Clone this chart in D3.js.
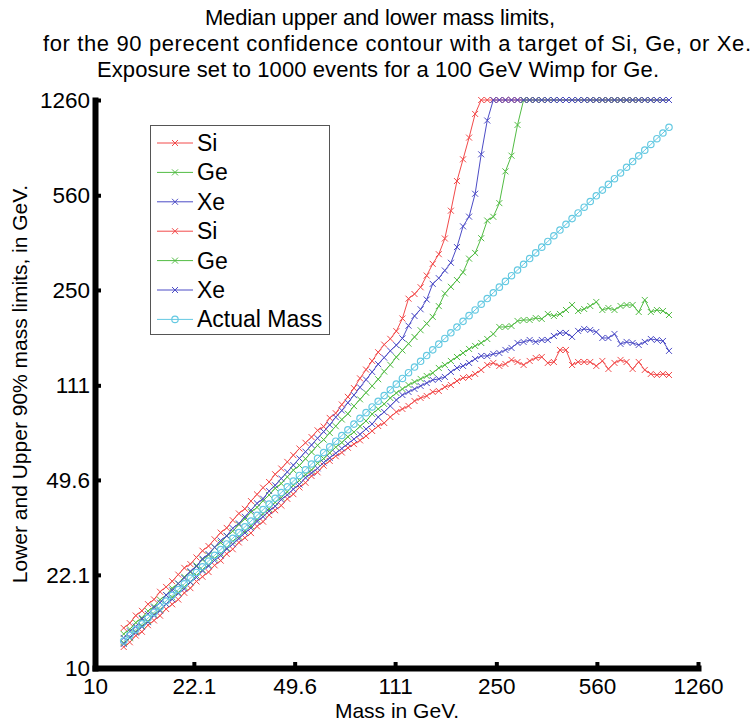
<!DOCTYPE html>
<html>
<head>
<meta charset="utf-8">
<script src="https://cdn.jsdelivr.net/npm/d3@7"></script>
<style>
  body { margin: 0; background: #ffffff; }
  svg text { font-family: "Liberation Sans", Arial, Helvetica, sans-serif; fill: #000; }
</style>
</head>
<body>
<svg id="chart" width="755" height="724"></svg>
<script>
// WIMP mass (GeV), log-spaced
const mass = [12.59, 13.22, 13.87, 14.57, 15.29, 16.05, 16.85, 17.69, 18.57, 19.50,
  20.47, 21.49, 22.56, 23.68, 24.86, 26.10, 27.40, 28.76, 30.19, 31.70,
  33.27, 34.93, 36.67, 38.50, 40.41, 42.42, 44.54, 46.75, 49.08, 51.53,
  54.09, 56.79, 59.61, 62.58, 65.70, 68.97, 72.40, 76.01, 79.79, 83.77,
  87.94, 92.32, 96.91, 101.7, 106.8, 112.1, 117.7, 123.6, 129.7, 136.2,
  143.0, 150.1, 157.6, 165.4, 173.6, 182.3, 191.4, 200.9, 210.9, 221.4,
  232.4, 244.0, 256.1, 268.9, 282.3, 296.3, 311.1, 326.6, 342.8, 359.9,
  377.8, 396.6, 416.4, 437.1, 458.9, 481.7, 505.7, 530.9, 557.3, 585.1,
  614.2, 644.8, 676.9, 710.6, 746.0, 783.2, 822.2, 863.1, 906.1, 951.2,
  998.6];

// Upper 90% limits (capped at 1260 GeV)
const siUpper = [14.06, 14.65, 15.63, 16.27, 17.23, 17.93, 19.14, 19.94, 20.93, 22.15,
  23.46, 24.22, 25.63, 27.14, 28.24, 29.91, 31.67, 32.96, 35.20, 37.28,
  38.79, 41.43, 43.86, 46.43, 48.73, 52.05, 54.65, 57.83, 61.25, 64.82,
  68.04, 71.44, 75.65, 78.10, 84.10, 87.52, 94.26, 100.6, 108.4, 117.8,
  126.9, 136.6, 147.1, 157.0, 164.9, 176.0, 196.1, 232.1, 241.5, 255.8,
  282.6, 312.2, 339.0, 387.5, 490.9, 632.0, 760.4, 914.7, 1119, 1260,
  1260, 1260, 1260, 1260, 1260, 1260, 1260, 1260, 1260, 1260,
  1260, 1260, 1260, 1260, 1260, 1260, 1260, 1260, 1260, 1260,
  1260, 1260, 1260, 1260, 1260, 1260, 1260, 1260, 1260, 1260,
  1260];

const geUpper = [13.36, 13.91, 14.72, 15.33, 16.23, 16.89, 17.88, 18.62, 19.71, 20.52,
  21.73, 22.62, 23.95, 25.13, 26.16, 27.94, 29.08, 30.79, 32.04, 33.93,
  35.62, 37.71, 39.26, 41.56, 43.63, 46.19, 48.09, 50.91, 53.89, 56.11,
  59.40, 62.89, 66.59, 69.91, 74.02, 78.37, 82.97, 87.11, 93.01, 98.49,
  104.3, 110.4, 116.9, 124.8, 132.2, 141.1, 149.4, 158.2, 167.5, 177.4,
  187.8, 198.8, 217.9, 242.6, 256.8, 272.0, 290.5, 326.4, 342.6, 388.4,
  451.5, 466.0, 523.6, 686.2, 784.3, 1019, 1260, 1260, 1260, 1260,
  1260, 1260, 1260, 1260, 1260, 1260, 1260, 1260, 1260, 1260,
  1260, 1260, 1260, 1260, 1260, 1260, 1260, 1260, 1260, 1260,
  1260];

const xeUpper = [12.92, 13.68, 14.23, 15.20, 15.83, 16.74, 17.44, 18.61, 19.37, 20.51,
  21.53, 22.80, 23.73, 25.36, 26.38, 27.95, 29.59, 30.80, 32.88, 34.24,
  36.23, 38.35, 40.63, 42.27, 45.14, 47.38, 50.20, 53.11, 56.25, 59.57,
  63.07, 66.79, 70.70, 74.84, 79.23, 84.63, 89.56, 95.70, 102.1, 109.1,
  116.5, 124.4, 132.9, 140.5, 148.9, 156.3, 165.5, 184.4, 200.3, 212.1,
  230.4, 263.3, 276.4, 295.1, 315.1, 360.2, 429.7, 466.7, 567.1, 793.3,
  1058, 1260, 1260, 1260, 1260, 1260, 1260, 1260, 1260, 1260,
  1260, 1260, 1260, 1260, 1260, 1260, 1260, 1260, 1260, 1260,
  1260, 1260, 1260, 1260, 1260, 1260, 1260, 1260, 1260, 1260,
  1260];

// Lower 90% limits
const siLower = [11.96, 12.45, 13.18, 13.61, 14.40, 14.99, 15.61, 16.53, 17.20, 17.91,
  18.96, 19.74, 20.90, 21.75, 22.64, 23.97, 24.95, 26.42, 27.49, 29.12,
  30.30, 31.54, 33.40, 34.77, 36.80, 38.31, 39.87, 42.22, 43.94, 46.53,
  48.42, 51.28, 52.91, 56.02, 58.32, 60.69, 62.64, 65.20, 67.29, 69.45,
  72.10, 75.24, 78.51, 80.54, 84.77, 88.47, 90.76, 93.10, 97.14, 99.65,
  101.4, 104.9, 105.8, 109.4, 111.3, 115.2, 118.2, 119.2, 122.3, 126.5,
  132.0, 134.3, 130.9, 133.1, 137.8, 135.4, 132.0, 136.6, 140.1, 141.3,
  134.3, 135.4, 150.0, 150.0, 132.0, 135.4, 135.4, 135.4, 130.9, 136.6,
  127.6, 134.3, 137.8, 135.4, 127.6, 135.4, 126.5, 122.3, 121.2, 122.3,
  121.2];

const geLower = [12.38, 12.89, 13.63, 14.32, 14.90, 15.78, 16.43, 17.24, 18.25, 19.01,
  19.95, 20.77, 21.99, 23.08, 24.03, 25.44, 26.48, 27.80, 29.43, 30.64,
  32.16, 33.47, 35.44, 37.21, 38.72, 41.00, 42.68, 44.80, 47.44, 49.38,
  51.83, 53.96, 57.12, 59.46, 62.43, 65.54, 68.21, 71.61, 74.54, 78.26,
  81.94, 86.97, 90.76, 94.70, 99.65, 104.0, 107.6, 111.3, 114.2, 117.2,
  120.2, 123.3, 128.7, 132.0, 136.6, 141.3, 146.2, 151.3, 155.2, 159.2,
  164.7, 171.9, 182.4, 182.4, 184.0, 192.0, 193.6, 193.6, 196.9, 195.3,
  203.8, 200.3, 203.8, 210.8, 220.0, 209.0, 212.6, 218.1, 225.7, 210.8,
  214.4, 210.8, 218.1, 220.0, 220.0, 207.2, 229.6, 207.2, 210.8, 209.0,
  202.0];

const xeLower = [12.27, 13.00, 13.52, 14.20, 14.78, 15.65, 16.29, 17.24, 17.95, 18.85,
  19.62, 20.77, 21.62, 22.89, 23.82, 25.01, 26.04, 27.56, 28.69, 30.12,
  31.61, 32.91, 34.84, 36.27, 38.07, 39.63, 41.96, 43.67, 45.85, 47.73,
  50.53, 52.60, 54.75, 57.48, 59.83, 62.28, 64.81, 67.47, 70.22, 73.10,
  76.53, 79.86, 84.77, 88.47, 93.10, 97.97, 102.2, 104.9, 107.6, 110.4,
  113.2, 116.2, 117.2, 119.2, 124.4, 128.7, 130.9, 134.3, 138.9, 142.5,
  142.5, 145.0, 146.2, 150.0, 152.6, 159.2, 160.6, 163.3, 160.6, 163.3,
  163.3, 169.0, 173.4, 173.4, 167.6, 176.4, 179.4, 177.8, 174.8, 166.1,
  166.1, 171.9, 157.9, 160.6, 159.2, 156.5, 160.6, 164.7, 163.3, 161.9,
  148.8];

// Reference line: the true mass itself
const actualMass = [12.59, 13.22, 13.87, 14.57, 15.29, 16.05, 16.85, 17.69, 18.57, 19.50,
  20.47, 21.49, 22.56, 23.68, 24.86, 26.10, 27.40, 28.76, 30.19, 31.70,
  33.27, 34.93, 36.67, 38.50, 40.41, 42.42, 44.54, 46.75, 49.08, 51.53,
  54.09, 56.79, 59.61, 62.58, 65.70, 68.97, 72.40, 76.01, 79.79, 83.77,
  87.94, 92.32, 96.91, 101.7, 106.8, 112.1, 117.7, 123.6, 129.7, 136.2,
  143.0, 150.1, 157.6, 165.4, 173.6, 182.3, 191.4, 200.9, 210.9, 221.4,
  232.4, 244.0, 256.1, 268.9, 282.3, 296.3, 311.1, 326.6, 342.8, 359.9,
  377.8, 396.6, 416.4, 437.1, 458.9, 481.7, 505.7, 530.9, 557.3, 585.1,
  614.2, 644.8, 676.9, 710.6, 746.0, 783.2, 822.2, 863.1, 906.1, 951.2,
  998.6];

const tickValues = [10, 22.1, 49.6, 111, 250, 560, 1260];
const tickLabels = ["10", "22.1", "49.6", "111", "250", "560", "1260"];
const legendNames = ["Si", "Ge", "Xe", "Si", "Ge", "Xe", "Actual Mass"];
const titleLines = [
  "Median upper and lower mass limits,",
  "for the 90 perecent confidence contour with a target of Si, Ge, or Xe.",
  "Exposure set to 1000 events for a 100 GeV Wimp for Ge."
];
const xTitle = "Mass in GeV.";
const yTitle = "Lower and Upper 90% mass limits, in GeV.";

// ---- drawing ----
const RED = "#f24a4a", GREEN = "#52bc44", BLUE = "#4c4cc6", CYAN = "#64c9e2";
const series = [
  { values: siUpper, color: RED, marker: "x" },
  { values: geUpper, color: GREEN, marker: "x" },
  { values: xeUpper, color: BLUE, marker: "x" },
  { values: siLower, color: RED, marker: "x" },
  { values: geLower, color: GREEN, marker: "x" },
  { values: xeLower, color: BLUE, marker: "x" },
  { values: actualMass, color: CYAN, marker: "o" }
];

const svg = d3.select("#chart");
const x = d3.scaleLog().domain([10, 1260]).range([95, 698]);
const y = d3.scaleLog().domain([10, 1260]).range([668, 100]);

// title, three centred lines
const titleCx = [380, 397, 378];
const titleLen = [350, 708, 562];
svg.append("g").selectAll("text").data(titleLines).join("text")
  .attr("x", (d, i) => titleCx[i])
  .attr("y", (d, i) => 25 + i * 26)
  .attr("text-anchor", "middle")
  .attr("textLength", (d, i) => titleLen[i])
  .attr("lengthAdjust", "spacing")
  .style("font-size", "22px")
  .text(d => d);

// data
const plot = svg.append("g");
const line = d3.line().x(d => x(d[0])).y(d => y(d[1]));
function drawMarker(g, px, py, kind, color) {
  if (kind === "x") {
    g.append("path")
      .attr("d", `M${px - 3},${py - 3}L${px + 3},${py + 3}M${px - 3},${py + 3}L${px + 3},${py - 3}`)
      .attr("stroke", color).attr("stroke-width", 1).attr("fill", "none");
  } else {
    g.append("circle").attr("cx", px).attr("cy", py).attr("r", 3.2)
      .attr("stroke", color).attr("stroke-width", 1.2).attr("fill", "none");
  }
}
series.forEach(s => {
  const pts = mass.map((m, i) => [m, s.values[i]]);
  plot.append("path").attr("d", line(pts))
    .attr("fill", "none").attr("stroke", s.color).attr("stroke-width", 1);
  const mg = plot.append("g");
  pts.forEach(p => drawMarker(mg, x(p[0]), y(p[1]), s.marker, s.color));
});

// axes
const xAxis = d3.axisBottom(x).tickValues(tickValues).tickFormat((d, i) => tickLabels[i])
  .tickSizeInner(-6).tickSizeOuter(0).tickPadding(10);
const yAxis = d3.axisLeft(y).tickValues(tickValues).tickFormat((d, i) => tickLabels[i])
  .tickSizeInner(-6).tickSizeOuter(0).tickPadding(5);

const gx = svg.append("g").attr("transform", "translate(0,668)").call(xAxis);
const gy = svg.append("g").attr("transform", "translate(95,0)").call(yAxis);
[gx, gy].forEach(g => {
  g.select(".domain").attr("stroke", "#000").attr("stroke-width", 6).attr("stroke-linecap", "square");
  g.selectAll(".tick line").attr("stroke", "#000").attr("stroke-width", 4);
  g.selectAll(".tick text").style("font-size", "22.5px").attr("fill", "#000")
    .style("font-family", "'Liberation Sans', Arial, sans-serif");
});
gx.selectAll(".tick text").attr("dy", "0.71em");

// axis titles
svg.append("text").attr("x", 397).attr("y", 718).attr("text-anchor", "middle")
  .style("font-size", "21px").text(xTitle);
svg.append("text").attr("transform", "translate(27,384) rotate(-90)")
  .attr("text-anchor", "middle").style("font-size", "21px").text(yTitle);

// legend
const lg = svg.append("g");
lg.append("rect").attr("x", 150.5).attr("y", 125.5).attr("width", 179).attr("height", 209)
  .attr("fill", "#fff").attr("stroke", "#555").attr("stroke-width", 1);
legendNames.forEach((name, i) => {
  const cy = 143 + i * 29.4;
  const s = series[i];
  lg.append("line").attr("x1", 157).attr("x2", 193).attr("y1", cy).attr("y2", cy)
    .attr("stroke", s.color).attr("stroke-width", 1);
  drawMarker(lg, 175, cy, s.marker, s.color);
  lg.append("text").attr("x", 197).attr("y", cy + 8).style("font-size", "23px").text(name);
});
</script>
</body>
</html>
